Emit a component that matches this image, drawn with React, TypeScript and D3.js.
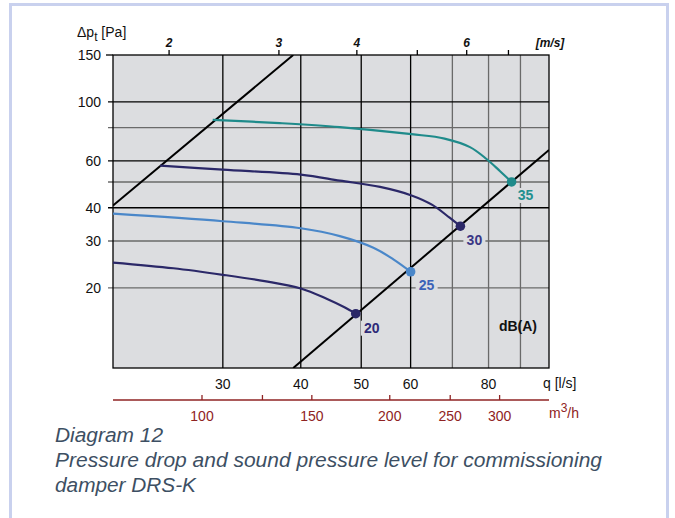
import * as d3 from 'd3';
import { useEffect, useRef } from 'react';

// flow q [l/s] vs total pressure drop [Pa]
const curve20 = [[20, 24.9], [25, 23.7], [30, 22.4], [35, 21.2], [40, 19.9], [44, 18.2], [47, 16.9], [49, 16.0]];
const curve25 = [[20, 38.0], [30, 35.6], [40, 33.5], [46.2, 31.3], [52.3, 28.3], [56.3, 25.6], [60, 23.0]];
const curve30 = [[23.8, 57.6], [30, 55.6], [40, 53.3], [46.2, 50.6], [53.6, 47.9], [60.2, 44.5], [65, 41.0], [69.3, 36.7], [72.1, 34.1]];
const curve35 = [[28.9, 85.6], [37, 83.2], [46.2, 80.4], [60.2, 75.6], [68, 72.8], [74.7, 67.6], [79.4, 61.0], [83.4, 55.0], [87.1, 50.0]];
const soundLabels = ['20', '25', '30', '35'];

const systemLineA = [[20, 40.8], [38.9, 150]];
const systemLineB = [[38.9, 10], [100, 66]];

const qTicks = [30, 40, 50, 60, 80];
const qGridBlack = [30, 40, 50, 60];
const qGridGray = [70, 80, 90];
const paTicks = [150, 100, 60, 40, 30, 20];
const paGridBlack = [100, 60, 40];
const paGridGray = [80, 50, 30, 20];
const vTicks = [2, 3, 4, 5, 6, 7];
const vLabels = [2, 3, 4, 6];
const m3hTicks = [100, 125, 150, 200, 250, 300];
const m3hLabels = [100, 150, 200, 250, 300];
const vPerQ = 2 / 24.6; // m/s per l/s
const m3hPerQ = 3.6;

const captionLines = [
  'Diagram 12',
  'Pressure drop and sound pressure level for commissioning',
  'damper DRS-K',
];
const captionWidths = [108, 547, 141];

const App = () => {
  const ref = useRef(null);

  useEffect(() => {
    const svg = d3.select(ref.current);
    svg.selectAll('*').remove();

    const font = "'Liberation Sans', Arial, sans-serif";
    const plotBg = '#dcdde0';
    const left = 113, right = 549, top = 55, bottom = 368;

    const x = d3.scaleLog().domain([20, 100]).range([left, right]);
    const y = d3.scaleLog().domain([10, 150]).range([bottom, top]);
    const xv = d3.scaleLog().domain([20 * vPerQ, 100 * vPerQ]).range([left, right]);
    const xm = d3.scaleLog().domain([20 * m3hPerQ, 100 * m3hPerQ]).range([left, right]);

    // outer frame
    svg.append('rect')
      .attr('x', 10.5).attr('y', 4.5)
      .attr('width', 657).attr('height', 540)
      .attr('fill', 'white')
      .attr('stroke', '#c9d1ee')
      .attr('stroke-width', 3);

    // plot background
    svg.append('rect')
      .attr('x', left).attr('y', top)
      .attr('width', right - left).attr('height', bottom - top)
      .attr('fill', plotBg);

    svg.append('clipPath').attr('id', 'plot-clip')
      .append('rect')
      .attr('x', left).attr('y', top)
      .attr('width', right - left).attr('height', bottom - top);

    // grid lines
    const grid = svg.append('g');
    grid.selectAll('.vg-gray').data(qGridGray).enter().append('line')
      .attr('x1', (d) => x(d)).attr('x2', (d) => x(d))
      .attr('y1', top).attr('y2', bottom)
      .attr('stroke', '#6a6a6a').attr('stroke-width', 1.3);
    grid.selectAll('.hg-gray').data(paGridGray).enter().append('line')
      .attr('x1', left - 5).attr('x2', right)
      .attr('y1', (d) => y(d)).attr('y2', (d) => y(d))
      .attr('stroke', '#6a6a6a').attr('stroke-width', 1.3);
    grid.selectAll('.vg-black').data(qGridBlack).enter().append('line')
      .attr('x1', (d) => x(d)).attr('x2', (d) => x(d))
      .attr('y1', top).attr('y2', bottom)
      .attr('stroke', '#000').attr('stroke-width', 1.3);
    grid.selectAll('.hg-black').data(paGridBlack).enter().append('line')
      .attr('x1', left - 5).attr('x2', right)
      .attr('y1', (d) => y(d)).attr('y2', (d) => y(d))
      .attr('stroke', '#000').attr('stroke-width', 1.3);

    // plot border
    svg.append('rect')
      .attr('x', left).attr('y', top)
      .attr('width', right - left).attr('height', bottom - top)
      .attr('fill', 'none')
      .attr('stroke', '#000')
      .attr('stroke-width', 1.3);
    svg.append('line')
      .attr('x1', left - 7).attr('x2', left)
      .attr('y1', y(150)).attr('y2', y(150))
      .attr('stroke', '#000').attr('stroke-width', 1.3);

    // system lines
    const lineGen = d3.line().x((d) => x(d[0])).y((d) => y(d[1]));
    [systemLineA, systemLineB].forEach((pts) => {
      svg.append('path')
        .attr('d', lineGen(pts))
        .attr('clip-path', 'url(#plot-clip)')
        .attr('fill', 'none')
        .attr('stroke', '#000')
        .attr('stroke-width', 2);
    });

    // pressure curves
    const curveGen = d3.line()
      .x((d) => x(d[0]))
      .y((d) => y(d[1]))
      .curve(d3.curveCatmullRom.alpha(0.5));
    const curves = [curve20, curve25, curve30, curve35];
    const colors = ['#2b2868', '#4a87c9', '#2b2868', '#1f8b8b'];
    const labelColors = ['#2e2a78', '#3b62b8', '#3a3685', '#23908f'];
    const labelOffsets = [[16, 19], [16, 18], [14, 19], [14, 18]];

    curves.forEach((c, i) => {
      svg.append('path')
        .attr('d', curveGen(c))
        .attr('fill', 'none')
        .attr('stroke', colors[i])
        .attr('stroke-width', 2.2);
      const end = c[c.length - 1];
      svg.append('circle')
        .attr('cx', x(end[0])).attr('cy', y(end[1]))
        .attr('r', 4.8)
        .attr('fill', colors[i]);

      const lx = x(end[0]) + labelOffsets[i][0];
      const ly = y(end[1]) + labelOffsets[i][1];
      svg.append('rect')
        .attr('x', lx - 11).attr('y', ly - 12)
        .attr('width', 22).attr('height', 15)
        .attr('fill', plotBg);
      svg.append('text')
        .attr('x', lx).attr('y', ly)
        .attr('text-anchor', 'middle')
        .style('font-family', font)
        .style('font-size', '14px')
        .style('font-weight', 'bold')
        .style('fill', labelColors[i])
        .text(soundLabels[i]);
    });

    svg.append('text')
      .attr('x', 518).attr('y', 331)
      .attr('text-anchor', 'middle')
      .style('font-family', font)
      .style('font-size', '14px')
      .style('font-weight', 'bold')
      .style('fill', '#111')
      .text('dB(A)');

    // y axis labels
    svg.selectAll('.ylab').data(paTicks).enter().append('text')
      .attr('x', 101)
      .attr('y', (d) => y(d) + 5)
      .attr('text-anchor', 'end')
      .style('font-family', font)
      .style('font-size', '14px')
      .style('fill', '#111')
      .text((d) => d);

    const yTitle = svg.append('text')
      .attr('x', 77).attr('y', 37)
      .style('font-family', font)
      .style('font-size', '14px')
      .style('fill', '#111');
    yTitle.append('tspan').text('\u0394p');
    yTitle.append('tspan').attr('dy', 4).style('font-size', '12px').text('t');
    yTitle.append('tspan').attr('dy', -4).text(' [Pa]');

    // top velocity axis
    svg.selectAll('.vtick').data(vTicks).enter().append('line')
      .attr('x1', (d) => xv(d)).attr('x2', (d) => xv(d))
      .attr('y1', top - 5).attr('y2', top)
      .attr('stroke', '#000').attr('stroke-width', 1.3);
    svg.selectAll('.vlab').data(vLabels).enter().append('text')
      .attr('x', (d) => xv(d))
      .attr('y', 47)
      .attr('text-anchor', 'middle')
      .style('font-family', font)
      .style('font-size', '12px')
      .style('font-weight', 'bold')
      .style('font-style', 'italic')
      .style('fill', '#111')
      .text((d) => d);
    svg.append('text')
      .attr('x', 550).attr('y', 47)
      .attr('text-anchor', 'middle')
      .style('font-family', font)
      .style('font-size', '12px')
      .style('font-weight', 'bold')
      .style('font-style', 'italic')
      .style('fill', '#111')
      .text('[m/s]');

    // bottom q axis
    svg.selectAll('.qlab').data(qTicks).enter().append('text')
      .attr('x', (d) => x(d))
      .attr('y', 389)
      .attr('text-anchor', 'middle')
      .style('font-family', font)
      .style('font-size', '14px')
      .style('fill', '#111')
      .text((d) => d);
    svg.append('text')
      .attr('x', 543).attr('y', 388)
      .style('font-family', font)
      .style('font-size', '14px')
      .style('fill', '#111')
      .text('q [l/s]');

    // m3/h axis
    const red = '#8f2323';
    svg.append('line')
      .attr('x1', left).attr('x2', right)
      .attr('y1', 400).attr('y2', 400)
      .attr('stroke', red).attr('stroke-width', 1.3);
    svg.selectAll('.mtick').data(m3hTicks).enter().append('line')
      .attr('x1', (d) => xm(d)).attr('x2', (d) => xm(d))
      .attr('y1', 395).attr('y2', 400)
      .attr('stroke', red).attr('stroke-width', 1.3);
    svg.selectAll('.mlab').data(m3hLabels).enter().append('text')
      .attr('x', (d) => xm(d))
      .attr('y', 421)
      .attr('text-anchor', 'middle')
      .style('font-family', font)
      .style('font-size', '14px')
      .style('fill', red)
      .text((d) => d);
    const mTitle = svg.append('text')
      .attr('x', 549).attr('y', 418)
      .style('font-family', font)
      .style('font-size', '14px')
      .style('fill', red);
    mTitle.append('tspan').text('m');
    mTitle.append('tspan').attr('dy', -6).style('font-size', '12px').text('3');
    mTitle.append('tspan').attr('dy', 6).text('/h');

    // caption
    svg.selectAll('.cap').data(captionLines).enter().append('text')
      .attr('x', 55)
      .attr('y', (d, i) => 442 + i * 25)
      .attr('textLength', (d, i) => captionWidths[i])
      .attr('lengthAdjust', 'spacingAndGlyphs')
      .style('font-family', font)
      .style('font-size', '19.5px')
      .style('font-style', 'italic')
      .style('fill', '#3d4f63')
      .text((d) => d);
  }, []);

  return (
    <svg
      ref={ref}
      width={675}
      height={518}
      style={{ position: 'absolute', left: 0, top: 0 }}
    />
  );
};

export default App;
